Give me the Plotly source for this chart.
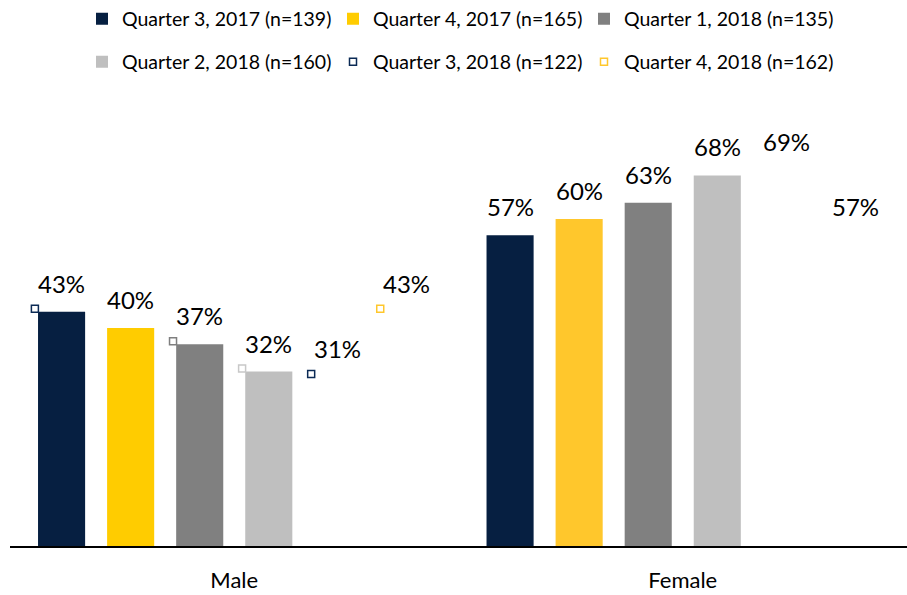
import plotly.graph_objects as go

categories = ["Male", "Female"]
series_names = [
    "Quarter 3, 2017 (n=139)",
    "Quarter 4, 2017 (n=165)",
    "Quarter 1, 2018 (n=135)",
    "Quarter 2, 2018 (n=160)",
    "Quarter 3, 2018 (n=122)",
    "Quarter 4, 2018 (n=162)",
]
q3_2017 = [43, 57]
q4_2017 = [40, 60]
q1_2018 = [37, 63]
q2_2018 = [32, 68]
q3_2018 = [31, 69]
q4_2018 = [43, 57]
series_values = [q3_2017, q4_2017, q1_2018, q2_2018, q3_2018, q4_2018]

# small open-square markers visible in the original (per series, per category)
square_shown = [
    [True, False],
    [False, False],
    [True, False],
    [True, False],
    [True, False],
    [True, False],
]

# styling
bar_colors = [
    ["#061f41", "#061f41"],
    ["#ffcc00", "#ffc72c"],
    ["#808080", "#808080"],
    ["#bfbfbf", "#bfbfbf"],
    ["rgba(0,0,0,0)", "rgba(0,0,0,0)"],
    ["rgba(0,0,0,0)", "rgba(0,0,0,0)"],
]
square_colors = ["#0b2a55", "#ffcc00", "#7f7f7f", "#c8c8c8", "#0b2a55", "#ffc72c"]
legend_ids = ["legend", "legend", "legend", "legend2", "legend2", "legend2"]

FONT = "Lato"
slot = 0.154
bar_w = 0.105
sq_dx = 0.007
sq_dy = 0.55

fig = go.Figure()
xcat = list(range(len(categories)))

offsets = [-3 * slot + i * slot + (slot - bar_w) / 2 for i in range(len(series_names))]

# bars
for i, (name, vals) in enumerate(zip(series_names, series_values)):
    fig.add_trace(go.Bar(
        x=xcat, y=vals, width=bar_w, offset=offsets[i],
        name=name,
        marker=dict(color=bar_colors[i], line=dict(width=0)),
        showlegend=(i < 4),
        legend=legend_ids[i],
        hoverinfo="skip",
    ))

# square markers
for i, (name, vals) in enumerate(zip(series_names, series_values)):
    xs, ys = [], []
    for c, v in zip(xcat, vals):
        if square_shown[i][c]:
            xs.append(c + offsets[i] - sq_dx)
            ys.append(v + sq_dy)
        else:
            xs.append(None)
            ys.append(None)
    fig.add_trace(go.Scatter(
        x=xs, y=ys, mode="markers", name=name,
        marker=dict(symbol="square-open", size=7, color=square_colors[i],
                    line=dict(width=1.5, color=square_colors[i])),
        showlegend=(i >= 4),
        legend=legend_ids[i],
        hoverinfo="skip",
    ))

# data labels
for i, vals in enumerate(series_values):
    for c, v in zip(xcat, vals):
        fig.add_annotation(
            x=c + offsets[i] + bar_w / 2, y=v, xref="x", yref="y",
            text=f"{v}%", showarrow=False, yanchor="bottom", yshift=12,
            font=dict(family=FONT, size=24, color="#000000"),
        )

legend_common = dict(
    orientation="h", xanchor="center", x=0.5, yanchor="middle",
    font=dict(family=FONT, size=19.5, color="#000000"),
    bgcolor="rgba(0,0,0,0)", entrywidth=206, traceorder="normal",
)

fig.update_layout(
    width=907, height=595,
    margin=dict(l=10, r=0, t=110, b=49, autoexpand=False),
    paper_bgcolor="white", plot_bgcolor="white",
    barmode="overlay",
    font=dict(family=FONT, color="#000000"),
    legend=dict(y=1.2087, **legend_common),
    legend2=dict(y=1.110, **legend_common),
    xaxis=dict(
        range=[-0.5, 1.5], tickvals=xcat, ticktext=categories,
        showline=True, linecolor="#000000", linewidth=2,
        showgrid=False, zeroline=False, ticks="",
        ticklabelstandoff=14,
        tickfont=dict(family=FONT, size=22, color="#000000"),
    ),
    yaxis=dict(range=[0, 80], visible=False, showgrid=False, zeroline=False),
)

fig.write_html(
    "out.html",
    config={"displayModeBar": False},
    post_script="document.body.style.margin='0';document.body.style.overflow='hidden';",
)
